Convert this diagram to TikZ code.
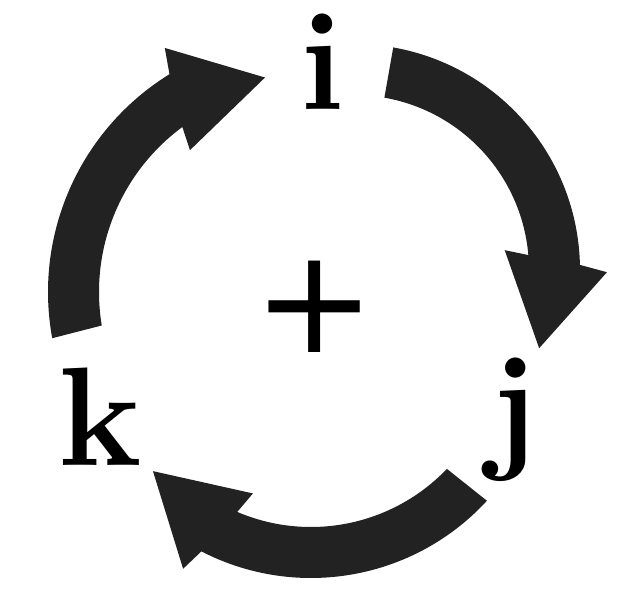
\documentclass[tikz,border=0pt]{standalone}
\usepackage{fontspec}
\newfontfamily\plusfont{DejaVu Sans}
\definecolor{ArrowGrey}{HTML}{222222}

\begin{document}
\begin{tikzpicture}[x=0.02cm, y=0.02cm,
  letter/.style={inner sep=0pt, anchor=base, font=\fontsize{80}{96}\selectfont\bfseries},
  bigarrow/.style={fill=ArrowGrey}]
  \useasboundingbox (0,0) rectangle (627,-609);
  % Letters
  \node[letter] (i) at (322,-109) {i};
  \node[letter] (j) at (514,-453) {j};
  \node[letter] (k) at (100,-465) {k};
  \node[inner sep=0pt, font=\plusfont\fontsize{83}{96}\selectfont] (plus) at (315,-307) {+};
  % Right arrow: i to j
  \begin{scope}[shift={(354,-270)}]
    \fill[bigarrow] (80:226) arc[start angle=80, end angle=1.3, radius=226]
      -- (-0.5:253) -- (-22.9:201) -- (7.5:152) -- (4.9:175)
      arc[start angle=4.9, end angle=80, radius=175] -- cycle;
  \end{scope}
  % Bottom arrow: j to k
  \begin{scope}[shift={(311,-339)}]
    \fill[bigarrow] (-42.6:239) arc[start angle=-42.6, end angle=-117.3, radius=239]
      -- (-119.1:263) -- (-140.1:206) -- (-110.6:165) -- (-113.1:188)
      arc[start angle=-113.1, end angle=-43.7, radius=188] -- cycle;
  \end{scope}
  % Left arrow: k to i
  \begin{scope}[shift={(304,-292)}]
    \fill[bigarrow] (190.4:256) arc[start angle=190.4, end angle=121.7, radius=256]
      -- (119.7:281) -- (100.3:218) -- (128.8:182) -- (126.4:205)
      arc[start angle=126.4, end angle=189.4, radius=205] -- cycle;
  \end{scope}
\end{tikzpicture}
\end{document}
